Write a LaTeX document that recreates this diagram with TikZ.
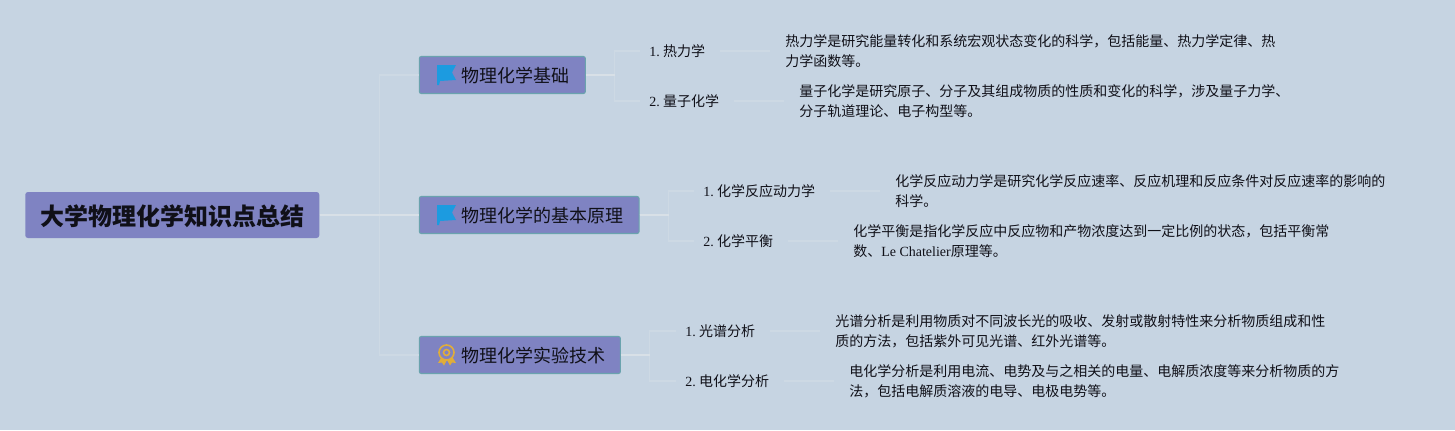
\documentclass[tikz,border=0pt]{standalone}
\usepackage{fontspec}
\setmainfont{Liberation Serif}
\newfontfamily\cjk{Noto Sans CJK SC}
\newcommand{\zh}[1]{{\cjk #1}}
\newcommand{\numb}[1]{#1.\hspace{2.6pt}}
\definecolor{bgc}{HTML}{C6D4E2}
\definecolor{boxc}{HTML}{7F83C2}
\definecolor{edgec}{HTML}{6AA3AE}
\definecolor{linec}{HTML}{CDD9E4}
\definecolor{linehi}{HTML}{D8E0E7}
\definecolor{inkc}{HTML}{101018}
\definecolor{flagc}{HTML}{1C9BE0}
\definecolor{goldc}{HTML}{E0AD3A}
\tikzset{
  x=0.75pt,y=-0.75pt,
  rootbox/.style={fill=boxc,rounded corners=2pt,inner sep=0pt,anchor=west,minimum width=220.5pt,minimum height=34.5pt},
  roottext/.style={inner sep=0pt,text=inkc,font={\fontsize{18}{22}\selectfont\cjk\bfseries}},
  mainbox/.style={fill=boxc,draw=edgec,line width=0.8pt,rounded corners=1.5pt,inner sep=0pt,anchor=west,minimum height=27.75pt},
  maintext/.style={anchor=west,inner sep=0pt,text=inkc,font={\fontsize{13.5}{16}\selectfont\cjk}},
  sublabel/.style={anchor=west,inner sep=0pt,text=inkc,font={\fontsize{10.5}{15}\selectfont}},
  desc/.style={anchor=west,inner sep=0pt,align=left,text=inkc,font={\fontsize{10.5}{15}\selectfont}},
  conn/.style={draw=linec,line width=0.8pt},
  connhi/.style={draw=linehi,line width=1pt},
  connthin/.style={draw=linec,line width=0.8pt,shorten <=11pt,shorten >=11pt},
  branch/.style={draw=linec,line width=0.8pt,shorten >=7pt},
}
\begin{document}
\begin{tikzpicture}
\useasboundingbox (0,0) rectangle (1455,430);
\fill[bgc] (0,0) rectangle (1455,430);

\node[rootbox] (root) at (25,215) {};
\node[roottext] (rt) at (172,216.5) {大学物理化学知识点总结};
\node[mainbox,minimum width=124.5pt] (m1) at (418.8,75) {};
\node[mainbox,minimum width=164.8pt] (m2) at (418.8,215) {};
\node[mainbox,minimum width=150.8pt] (m3) at (418.8,355) {};
\node[maintext] (t1) at (461,76) {物理化学基础};
\node[maintext] (t2) at (461,216) {物理化学的基本原理};
\node[maintext] (t3) at (461,356) {物理化学实验技术};

\node[sublabel] (a1) at (649,51) {\numb{1}\zh{热力学}};
\node[sublabel] (a2) at (649,101) {\numb{2}\zh{量子化学}};
\node[sublabel] (b1) at (703,191) {\numb{1}\zh{化学反应动力学}};
\node[sublabel] (b2) at (703,241) {\numb{2}\zh{化学平衡}};
\node[sublabel] (c1) at (685,331) {\numb{1}\zh{光谱分析}};
\node[sublabel] (c2) at (685,381) {\numb{2}\zh{电化学分析}};

\node[desc] (da1) at (785,51) {\zh{热力学是研究能量转化和系统宏观状态变化的科学，包括能量、热力学定律、热}\\\zh{力学函数等。}};
\node[desc] (da2) at (799,101) {\zh{量子化学是研究原子、分子及其组成物质的性质和变化的科学，涉及量子力学、}\\\zh{分子轨道理论、电子构型等。}};
\node[desc] (db1) at (895,191) {\zh{化学反应动力学是研究化学反应速率、反应机理和反应条件对反应速率的影响的}\\\zh{科学。}};
\node[desc] (db2) at (853,241) {\zh{化学平衡是指化学反应中反应物和产物浓度达到一定比例的状态，包括平衡常}\\\zh{数、}Le Chatelier\zh{原理等。}};
\node[desc] (dc1) at (835,331) {\zh{光谱分析是利用物质对不同波长光的吸收、发射或散射特性来分析物质组成和性}\\\zh{质的方法，包括紫外可见光谱、红外光谱等。}};
\node[desc] (dc2) at (849,381) {\zh{电化学分析是利用电流、电势及与之相关的电量、电解质浓度等来分析物质的方}\\\zh{法，包括电解质溶液的电导、电极电势等。}};

% trunk
\draw[conn] (root.east) -- ++(60,0) |- (m1.west);
\draw[conn] (root.east) -- ++(60,0) |- (m3.west);
\draw[connhi] (root.east) -- (m2.west);
% branches
\draw[branch] (m1.east) -- ++(29,0) |- (a1.west);
\draw[branch] (m1.east) -- ++(29,0) |- (a2.west);
\draw[branch] (m2.east) -- ++(29,0) |- (b1.west);
\draw[branch] (m2.east) -- ++(29,0) |- (b2.west);
\draw[branch] (m3.east) -- ++(29,0) |- (c1.west);
\draw[branch] (m3.east) -- ++(29,0) |- (c2.west);
\draw[connhi] (m1.east) -- ++(29,0);
\draw[connhi] (m2.east) -- ++(29,0);
\draw[connhi] (m3.east) -- ++(29,0);
% label to description
\draw[connthin] (a1.east) -- (da1.west |- a1.east);
\draw[connthin] (a2.east) -- (da2.west |- a2.east);
\draw[connthin] (b1.east) -- (db1.west |- b1.east);
\draw[connthin] (b2.east) -- (db2.west |- b2.east);
\draw[connthin] (c1.east) -- (dc1.west |- c1.east);
\draw[connthin] (c2.east) -- (dc2.west |- c2.east);

% flag icons
\foreach \yy in {0,140}{
  \fill[flagc] (437,65+\yy) -- (456,65+\yy) -- (452,72.5+\yy) -- (456,80+\yy) -- (440,81+\yy) -- (439,85+\yy) -- (437,85+\yy) -- cycle;
}
% badge icon
\fill[goldc] (441,358) -- (438,363) -- (442,362.5) -- (444,365.5) -- (447,360) -- (450,365.5) -- (452,362.5) -- (456,363) -- (453,358) -- cycle;
\draw[goldc,fill=boxc,line width=1.2pt] (446.5,352.5) circle[radius=7.5];
\draw[goldc,line width=1.2pt] (446.5,352.5) circle[radius=3];
\end{tikzpicture}
\end{document}
